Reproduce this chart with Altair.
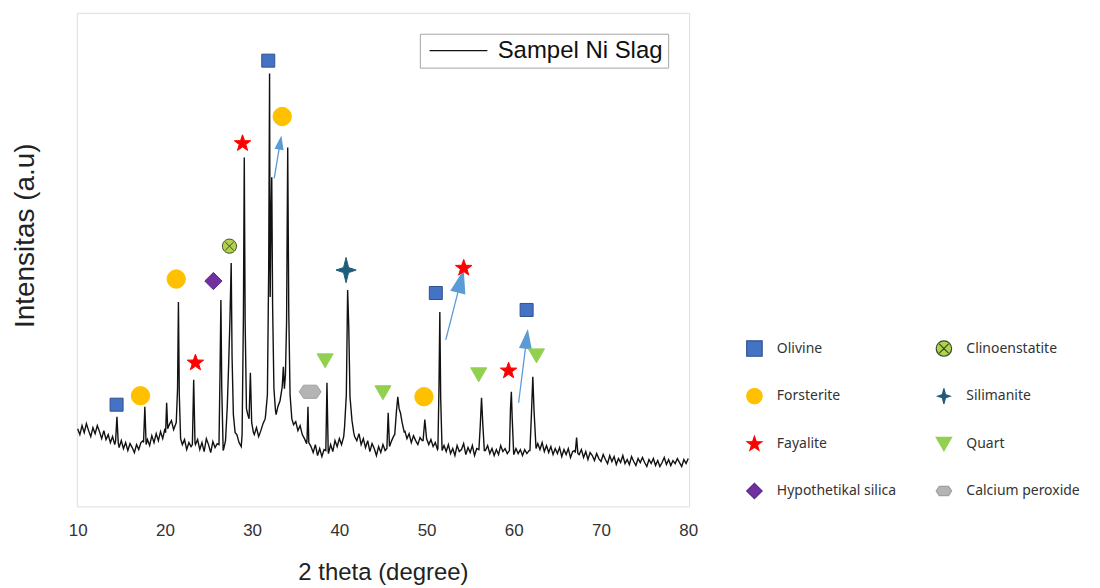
import altair as alt
import pandas as pd

# ---------------- data ----------------
# background profile, sampled every 0.25 deg from 10 to 80 (2 theta)
base_start = 10.0
base_step = 0.25
base_intensity = [
    78, 72, 81, 74,  83, 76, 70, 79,  73, 81, 75, 68,  76, 67, 72, 64,
    70, 62, 66, 59,  66, 58, 64, 56,  63, 59, 54, 62,  57, 64, 66, 61,
    67, 61, 71, 64,  73, 66, 75, 68,  78, 70, 82, 86,  77, 83, 80, 72,
    62, 67, 57, 64,  60, 58, 62, 67,  57, 64, 55, 68,  62, 54, 65, 59,
    63, 60, 62, 58,  80, 90, 100, 85, 78, 72, 64, 60,  70, 80, 84, 88,
    80, 72, 79, 70,  76, 83, 88, 95,  100, 110, 105, 92, 98, 102, 108, 104,
    110, 100, 95, 82, 85, 76, 81, 72,  68, 63, 66, 60,  54, 62, 51, 58,
    50, 57, 55, 53,  62, 55, 66, 60,  68, 62, 70, 78,  95, 85, 78, 70,
    66, 73, 62, 68,  59, 66, 55, 63,  58, 51, 60, 54,  62, 56, 60, 63,
    66, 71, 80, 90,  88, 82, 76, 68,  73, 64, 71, 66,  62, 69, 66, 70,
    72, 62, 67, 60,  64, 57, 60, 58,  61, 55, 62, 53,  58, 51, 61, 55,
    57, 63, 52, 59,  54, 61, 51, 58,  56, 60, 62, 56,  61, 53, 58, 51,
    57, 52, 61, 55,  58, 53, 57, 60,  52, 58, 53, 57,  51, 57, 53, 56,
    58, 62, 60, 63,  57, 64, 55, 61,  54, 60, 52, 58,  53, 59, 50, 57,
    52, 58, 49, 55,  56, 60, 52, 57,  49, 55, 47, 54,  51, 46, 53, 48,
    45, 52, 47, 43,  51, 45, 50, 42,  48, 44, 51, 43,  47, 42, 50, 45,
    41, 48, 44, 49,  44, 40, 47, 43,  48, 41, 46, 40,  44, 49, 42, 47,
    41, 46, 43, 48,  44, 40, 47, 43,  48,
]

# diffraction peaks: (2 theta, intensity) points
peak_profiles = [
    [(14.35, 66), (14.5, 90), (14.65, 64)],
    [(17.55, 64), (17.7, 100), (17.85, 62)],
    [(20.08, 74), (20.2, 104), (20.32, 78)],
    [(21.3, 84), (21.45, 118), (21.55, 205), (21.65, 112), (21.8, 68)],
    [(23.15, 62), (23.3, 127), (23.45, 64)],
    [(26.2, 62), (26.33, 140), (26.42, 207), (26.52, 118), (26.68, 56)],
    [(26.95, 66), (27.15, 100), (27.3, 140), (27.45, 185), (27.6, 244),
     (27.7, 150), (27.85, 92), (28.05, 74)],
    [(28.85, 72), (29.0, 190), (29.1, 350), (29.2, 185), (29.35, 98),
     (29.5, 92), (29.65, 88), (29.8, 134), (29.95, 84), (30.15, 74)],
    [(31.55, 92), (31.75, 112), (31.9, 240), (32.0, 434), (32.07, 210),
     (32.14, 270), (32.25, 330), (32.35, 200), (32.5, 118), (32.68, 96)],
    [(32.95, 100), (33.2, 106), (33.45, 120), (33.58, 140), (33.7, 118),
     (33.82, 132), (33.95, 185), (34.08, 360), (34.2, 195), (34.35, 112),
     (34.55, 88)],
    [(36.3, 68), (36.4, 100), (36.5, 64)],
    [(38.45, 56), (38.58, 124), (38.72, 56)],
    [(40.6, 80), (40.8, 112), (40.95, 217), (41.08, 180), (41.22, 110),
     (41.45, 86), (41.65, 74)],
    [(45.45, 58), (45.6, 94), (45.75, 60)],
    [(46.35, 72), (46.55, 96), (46.7, 110), (46.85, 98), (47.0, 94),
     (47.2, 84), (47.45, 74)],
    [(49.6, 66), (49.8, 87), (50.0, 68)],
    [(51.3, 58), (51.42, 118), (51.52, 195), (51.62, 108), (51.78, 56)],
    [(56.0, 57), (56.15, 80), (56.3, 109), (56.45, 82), (56.62, 56)],
    [(59.5, 56), (59.62, 98), (59.72, 115), (59.82, 88), (59.98, 54)],
    [(61.85, 56), (62.02, 92), (62.18, 130), (62.32, 96), (62.55, 58)],
    [(67.05, 54), (67.2, 69), (67.35, 53)],
]

series_name = "Sampel Ni Slag"

# phase markers placed above the peaks
marker_phase = [
    "Olivine", "Forsterite", "Forsterite", "Fayalite", "Hypothetikal silica",
    "Clinoenstatite", "Fayalite", "Olivine", "Forsterite", "Calcium peroxide",
    "Quart", "Silimanite", "Quart", "Forsterite", "Olivine",
    "Fayalite", "Quart", "Fayalite", "Olivine", "Quart",
]
marker_two_theta = [
    14.46, 17.2, 21.3, 23.5, 25.56,
    27.4, 28.9, 31.85, 33.45, 36.65,
    38.37, 40.77, 45.0, 49.7, 51.06,
    54.26, 55.98, 59.4, 61.47, 62.6,
]
marker_intensity = [
    102, 111, 228, 144, 226,
    261, 364, 447, 391, 115,
    146, 237, 114, 110, 214,
    239, 132, 136, 197, 151,
]

# annotation arrows (start -> head)
arrow_x0 = [32.53, 52.2, 60.55]
arrow_y0 = [329, 167, 104]
arrow_x1 = [33.22, 53.92, 61.47]
arrow_y1 = [365, 226, 168]
arrow_angle = [9.5, 14.3, 7]
arrow_head = [200, 576, 400]

x_ticks = [10, 20, 30, 40, 50, 60, 70, 80]

# legend order (column-major, two columns of four)
phases = ["Olivine", "Forsterite", "Fayalite", "Hypothetikal silica",
          "Clinoenstatite", "Silimanite", "Quart", "Calcium peroxide"]

# ---------------- styles ----------------
STAR = ("M0,-1L0.235,-0.324L0.951,-0.309L0.38,0.124L0.588,0.809L0,0.4"
        "L-0.588,0.809L-0.38,0.124L-0.951,-0.309L-0.235,-0.324Z")
CIRCLE_X = ("M-1,0A1,1,0,1,1,1,0A1,1,0,1,1,-1,0Z"
            "M-0.6,-0.6L0.6,0.6M-0.6,0.6L0.6,-0.6")
SPARK = "M0,-1L0.2,-0.2L0.8,0L0.2,0.2L0,1L-0.2,0.2L-0.8,0L-0.2,-0.2Z"
HEXAGON = "M-1,0L-0.6,-0.6L0.6,-0.6L1,0L0.6,0.6L-0.6,0.6Z"

shape_range = ["square", "circle", STAR, "diamond",
               CIRCLE_X, SPARK, "triangle-down", HEXAGON]
fill_range = ["#4472C4", "#FFC000", "#FF0000", "#7030A0",
              "#B5CF4E", "#1F5C7A", "#92D050", "#B4B4B4"]
stroke_range = ["#2F528F", "#FFC000", "#FF0000", "#5B2C8A",
                "#34502A", "#1F5C7A", "#92D050", "#A0A0A0"]
size_range = [170, 340, 300, 300, 200, 640, 260, 480]

# ---------------- tables ----------------
points = [(base_start + i * base_step, v) for i, v in enumerate(base_intensity)]
for prof in peak_profiles:
    lo = min(p[0] for p in prof)
    hi = max(p[0] for p in prof)
    points = [p for p in points if not (lo <= p[0] <= hi)]
    points.extend(prof)
points.sort(key=lambda p: p[0])
spec_df = pd.DataFrame({
    "two_theta": [p[0] for p in points],
    "intensity": [p[1] for p in points],
    "series": series_name,
})
marker_df = pd.DataFrame({
    "phase": marker_phase,
    "two_theta": marker_two_theta,
    "intensity": marker_intensity,
})
size_of = dict(zip(phases, size_range))
marker_df["msize"] = marker_df["phase"].map(size_of)
arrow_df = pd.DataFrame({
    "x0": arrow_x0, "y0": arrow_y0, "x1": arrow_x1, "y1": arrow_y1,
    "angle": arrow_angle, "head": arrow_head,
})

# ---------------- chart ----------------
x_scale = alt.Scale(domain=[9.9, 80.1], nice=False, zero=False)
y_scale = alt.Scale(domain=[0, 495], nice=False, zero=False)
x_axis = alt.Axis(
    values=x_ticks, format="d", title="2 theta (degree)", ticks=False,
    domain=False, grid=False, labelFlush=False, labelFont="Liberation Sans",
    labelFontSize=17, labelColor="#333333", labelPadding=16,
    titleFont="Liberation Sans", titleFontSize=24, titleFontWeight="normal",
    titleColor="#222222", titleY=66, titleBaseline="middle",
)
y_axis = alt.Axis(
    title="Intensitas (a.u)", labels=False, ticks=False, domain=False,
    grid=False, titleFont="Liberation Sans", titleFontSize=28,
    titleFontWeight="normal", titleColor="#222222", titleAngle=-90,
    titleX=-51, titleY=223, titleAlign="center", titleBaseline="middle",
)

line = alt.Chart(spec_df).mark_line(strokeWidth=1.4).encode(
    x=alt.X("two_theta:Q", scale=x_scale, axis=x_axis),
    y=alt.Y("intensity:Q", scale=y_scale, axis=y_axis),
    color=alt.Color(
        "series:N",
        scale=alt.Scale(domain=[series_name], range=["#111111"]),
        legend=alt.Legend(
            title=None, orient="top-right", offset=21, strokeColor="#A6A6A6",
            padding=5, symbolType="M-1,0L7,0", symbolSize=210,
            symbolStrokeWidth=1.3, symbolStrokeColor="#444444",
            labelFont="Liberation Sans", labelFontSize=24, labelLimit=400,
            labelColor="#111111", labelOffset=49,
        ),
    ),
)

phase_legend = alt.Legend(
    title=None, orient="none", legendX=671, legendY=328, columns=2,
    rowPadding=27, columnPadding=37, symbolSize=240, symbolStrokeWidth=1.2,
    labelFont="Noto Sans", labelFontSize=14, labelColor="#333333",
    labelOffset=14, labelLimit=300, padding=0,
)

markers = alt.Chart(marker_df).mark_point(
    filled=True, opacity=1, strokeWidth=1
).encode(
    x=alt.X("two_theta:Q", scale=x_scale, axis=x_axis),
    y=alt.Y("intensity:Q", scale=y_scale, axis=y_axis),
    shape=alt.Shape("phase:N", scale=alt.Scale(domain=phases, range=shape_range),
                    legend=phase_legend),
    fill=alt.Fill("phase:N", scale=alt.Scale(domain=phases, range=fill_range),
                  legend=phase_legend),
    stroke=alt.Stroke("phase:N", scale=alt.Scale(domain=phases, range=stroke_range),
                      legend=phase_legend),
    size=alt.Size("msize:Q", scale=None),
)

shafts = alt.Chart(arrow_df).mark_rule(color="#5B9BD5", strokeWidth=1.3).encode(
    x=alt.X("x0:Q", scale=x_scale, axis=x_axis),
    y=alt.Y("y0:Q", scale=y_scale, axis=y_axis),
    x2="x1:Q",
    y2="y1:Q",
)

heads = alt.Chart(arrow_df).mark_point(
    filled=True, opacity=1, color="#5B9BD5", shape="M0,-1L0.65,1L-0.65,1Z"
).encode(
    x=alt.X("x1:Q", scale=x_scale, axis=x_axis),
    y=alt.Y("y1:Q", scale=y_scale, axis=y_axis),
    angle=alt.Angle("angle:Q", scale=None),
    size=alt.Size("head:Q", scale=None),
)

chart = alt.layer(line, shafts, heads, markers).properties(
    width=614,
    height=495,
    autosize=alt.AutoSizeParams(type="none"),
    padding={"left": 69, "top": 4, "right": 404, "bottom": 80},
).configure_view(
    stroke="#3F3F3F", strokeWidth=1.5
).configure(background="white")

chart.save("out.html", embed_options={"renderer": "svg", "actions": False})
